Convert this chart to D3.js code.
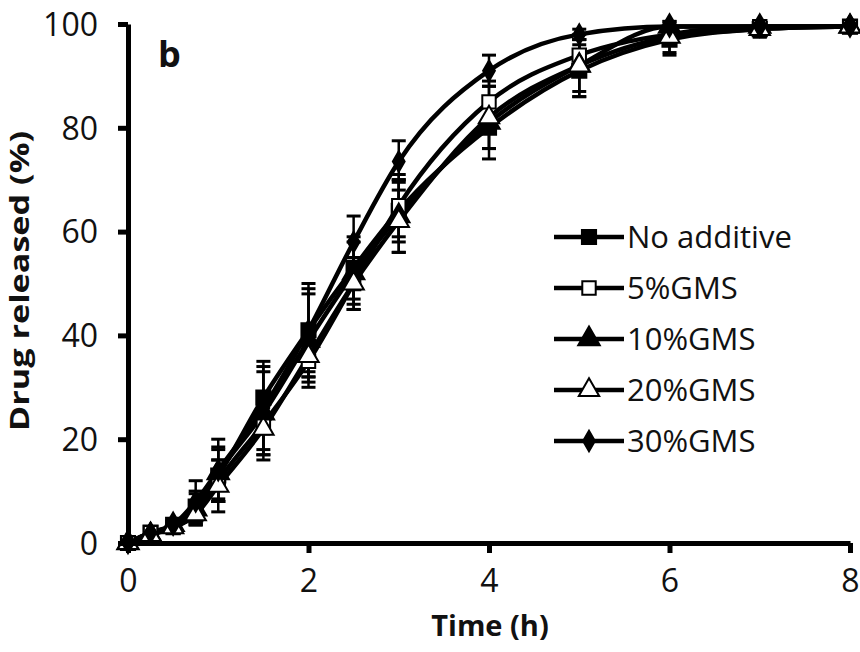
<!DOCTYPE html>
<html>
<head>
<meta charset="utf-8">
<script src="https://cdn.jsdelivr.net/npm/d3@7"></script>
<style>
  html, body { margin: 0; padding: 0; background: #fff; }
  svg { display: block; }
  text { font-family: "Open Sans", "Noto Sans", sans-serif; fill: #111; }
</style>
</head>
<body>
<svg id="chart" width="860" height="652"></svg>
<script>
// ---------- data ----------
const times = [0, 0.25, 0.5, 0.75, 1, 1.5, 2, 2.5, 3, 4, 5, 6, 7, 8];
const seriesNames = ["No additive", "5%GMS", "10%GMS", "20%GMS", "30%GMS"];
const noAdditive = [0, 2, 3.5, 7, 13, 28, 41, 53, 64, 80, 91, 97, 99, 99.5];
const gms5       = [0, 2, 3, 5.5, 12, 23, 35, 50, 65, 85, 94, 98, 99.5, 99.5];
const gms10      = [0, 1.5, 3.5, 6.5, 13.5, 25, 39, 52, 63, 81, 92, 99.5, 99.5, 99.5];
const gms20      = [0, 1.5, 3, 5.5, 11, 22, 36, 50, 62, 82, 92, 97.5, 99, 99.5];
const gms30      = [0, 2, 3.5, 8, 14, 26, 41, 58, 73.5, 91, 98, 99.5, 99.5, 99.5];
const errNoAdd   = [0, 0.5, 1, 3, 5, 7, 8, 6, 6, 6, 5, 3, 1.5, 1];
const err5       = [0, 0.5, 1, 2, 4, 6, 4, 5, 6, 4, 3, 1.5, 1, 1];
const err10      = [0, 0.5, 1, 3, 5, 8, 9, 6, 7, 5, 5, 1, 1, 1];
const err20      = [0, 0.5, 1, 2, 5, 6, 4, 5, 6, 6, 6, 3, 1.5, 1];
const err30      = [0, 0.5, 1, 4, 6, 8, 9, 5, 4, 3, 1, 0.5, 0.5, 0.5];
const xTicks = [0, 2, 4, 6, 8];
const yTicks = [0, 20, 40, 60, 80, 100];
const xTitle = "Time (h)";
const yTitle = "Drug released (%)";
const panelLabel = "b";

const values = [noAdditive, gms5, gms10, gms20, gms30];
const errors = [errNoAdd, err5, err10, err20, err30];
const symbolTypes = [d3.symbolSquare, d3.symbolSquare, d3.symbolTriangle, d3.symbolTriangle, d3.symbolDiamond];
const symbolFill = ["#000", "#fff", "#000", "#fff", "#000"];
const symbolSize = [200, 180, 200, 180, 120];

// ---------- layout ----------
const svg = d3.select("#chart");
const x = d3.scaleLinear().domain([0, 8]).range([128, 850]);
const y = d3.scaleLinear().domain([0, 100]).range([543, 24]);

// error bars
values.forEach((vals, si) => {
  const g = svg.append("g");
  vals.forEach((v, i) => {
    const e = errors[si][i];
    if (e <= 0.6) return;
    const cx = x(times[i]);
    g.append("line").attr("x1", cx).attr("x2", cx)
      .attr("y1", y(v - e)).attr("y2", y(v + e))
      .attr("stroke", "#000").attr("stroke-width", 2.5);
    [v - e, v + e].forEach(t => {
      g.append("line").attr("x1", cx - 7).attr("x2", cx + 7)
        .attr("y1", y(t)).attr("y2", y(t))
        .attr("stroke", "#000").attr("stroke-width", 3);
    });
  });
});

// lines
const line = d3.line()
  .x((d, i) => x(times[i]))
  .y(d => y(d))
  .curve(d3.curveMonotoneX);
values.forEach(vals => {
  svg.append("path").datum(vals)
    .attr("d", line)
    .attr("fill", "none").attr("stroke", "#000").attr("stroke-width", 4.5);
});

// markers
values.forEach((vals, si) => {
  const sym = d3.symbol().type(symbolTypes[si]).size(symbolSize[si]);
  svg.append("g").selectAll("path").data(vals).join("path")
    .attr("d", sym)
    .attr("transform", (d, i) => `translate(${x(times[i])},${y(d)})`)
    .attr("fill", symbolFill[si]).attr("stroke", "#000").attr("stroke-width", 2);
});

// axes
const xAxis = svg.append("g").attr("transform", `translate(0,${y(0)})`)
  .call(d3.axisBottom(x).tickValues(xTicks).tickSize(10).tickSizeOuter(0).tickPadding(16));
const yAxis = svg.append("g").attr("transform", `translate(${x(0)},0)`)
  .call(d3.axisLeft(y).tickValues(yTicks).tickSize(10).tickSizeOuter(0).tickPadding(20));
[xAxis, yAxis].forEach(a => {
  a.select(".domain").attr("stroke", "#000").attr("stroke-width", 5);
  a.selectAll(".tick line").attr("stroke", "#000").attr("stroke-width", 5);
  a.selectAll(".tick text").attr("font-size", 32).attr("font-family", "'Open Sans', sans-serif").attr("fill", "#111");
});
yAxis.selectAll(".tick text").attr("dy", "0.35em");

// titles
svg.append("text").attr("x", 490).attr("y", 636).attr("text-anchor", "middle")
  .attr("font-size", 29).attr("font-weight", "bold").text(xTitle);
svg.append("text").attr("transform", "translate(29,281) rotate(-90)").attr("text-anchor", "middle")
  .attr("font-size", 27).attr("font-weight", "bold")
  .attr("textLength", 300).attr("lengthAdjust", "spacingAndGlyphs").text(yTitle);
svg.append("text").attr("x", 158).attr("y", 67).attr("font-size", 36).attr("font-weight", "bold").text(panelLabel);

// legend
const legendY0 = 237, legendDy = 51;
seriesNames.forEach((name, si) => {
  const ly = legendY0 + si * legendDy;
  svg.append("line").attr("x1", 554).attr("x2", 624).attr("y1", ly).attr("y2", ly)
    .attr("stroke", "#000").attr("stroke-width", 4.5);
  svg.append("path").attr("d", d3.symbol().type(symbolTypes[si]).size(symbolSize[si])())
    .attr("transform", `translate(589,${ly})`)
    .attr("fill", symbolFill[si]).attr("stroke", "#000").attr("stroke-width", 2);
  svg.append("text").attr("x", 627).attr("y", ly).attr("dy", "0.36em")
    .attr("font-size", 31).text(name);
});
</script>
</body>
</html>
